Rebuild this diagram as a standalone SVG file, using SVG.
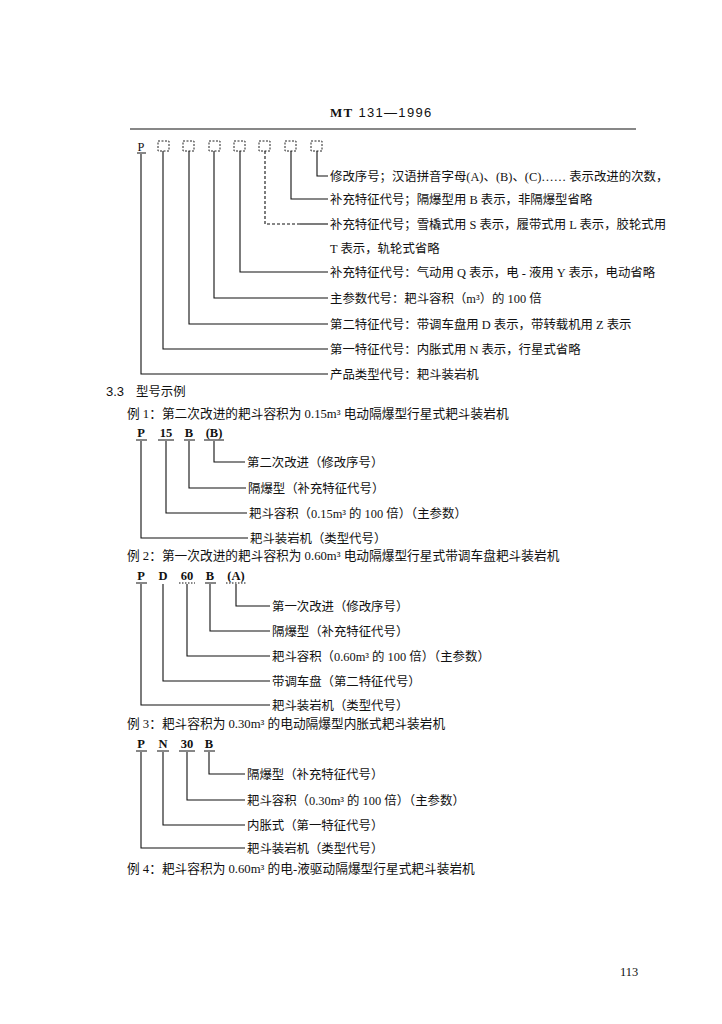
<svg xmlns="http://www.w3.org/2000/svg" width="722" height="1024" viewBox="0 0 722 1024">
<style>
.t{font-family:"Liberation Serif","Noto Sans CJK SC",serif;font-size:12.4px;fill:#111}
.e{font-family:"Liberation Serif","Noto Sans CJK SC",serif;font-size:12.7px;fill:#111}
.h{font-family:"Liberation Sans","Noto Sans CJK SC",sans-serif;font-size:13px;fill:#111}
.c{font-family:"Liberation Serif",serif;font-size:12.5px;fill:#111;text-anchor:middle;font-weight:bold}
.ln{stroke:#111;stroke-width:1.1;fill:none}
.dl{stroke:#111;stroke-width:1.1;fill:none;stroke-dasharray:3,2}
.bx{stroke:#222;stroke-width:1;fill:none;stroke-dasharray:2,1.5}
.ul{stroke:#111;stroke-width:1;fill:none}
.du{stroke:#111;stroke-width:1;fill:none;stroke-dasharray:1.5,1.5}
</style>
<rect width="722" height="1024" fill="#fff"/>
<g id="header">
<text class="h" x="330" y="117" font-size="14" letter-spacing="1.3"><tspan font-weight="bold" font-family="Liberation Serif">MT</tspan> 131—1996</text>
<line class="ln" x1="130" y1="129" x2="636" y2="129"/>
</g>
<g id="code-template">
<text class="t" x="141" y="151" text-anchor="middle">P</text>
<line class="ul" x1="137" y1="153" x2="146" y2="153"/>
<rect class="bx" x="158" y="141" width="11" height="10"/>
<rect class="bx" x="183" y="141" width="11" height="10"/>
<rect class="bx" x="209" y="141" width="11" height="10"/>
<rect class="bx" x="234" y="141" width="11" height="10"/>
<rect class="bx" x="259" y="141" width="11" height="10"/>
<rect class="bx" x="285" y="141" width="11" height="10"/>
<rect class="bx" x="311" y="141" width="11" height="10"/>
</g>
<g id="template-labels">
<text class="t" x="330" y="180.5">修改序号；汉语拼音字母(A)、(B)、(C)…… 表示改进的次数，</text>
<text class="t" x="330" y="203.5">补充特征代号；隔爆型用 B 表示，非隔爆型省略</text>
<text class="t" x="330" y="228.5">补充特征代号；雪橇式用 S 表示，履带式用 L 表示，胶轮式用</text>
<text class="t" x="330" y="252.5">T 表示，轨轮式省略</text>
<text class="t" x="330" y="276.5">补充特征代号：气动用 Q 表示，电 - 液用 Y 表示，电动省略</text>
<text class="t" x="330" y="302.5">主参数代号：耙斗容积（m³）的 100 倍</text>
<text class="t" x="330" y="328.5">第二特征代号：带调车盘用 D 表示，带转载机用 Z 表示</text>
<text class="t" x="330" y="353.5">第一特征代号：内胀式用 N 表示，行星式省略</text>
<text class="t" x="330" y="378.5">产品类型代号：耙斗装岩机</text>
</g>
<g id="section">
<text class="h" x="106" y="396" font-size="12.5">3.3</text>
<text class="t" x="136" y="396">型号示例</text>
</g>
<g id="example1">
<text class="e" x="127" y="418">例 1：第二次改进的耙斗容积为 0.15m³ 电动隔爆型行星式耙斗装岩机</text>
<text class="c" x="141" y="437">P</text>
<text class="c" x="166" y="437">15</text>
<text class="c" x="189" y="437">B</text>
<text class="c" x="214" y="437">(B)</text>
<line class="ul" x1="136" y1="440" x2="147" y2="440"/>
<line class="ul" x1="158" y1="440" x2="174" y2="440"/>
<line class="ul" x1="184" y1="440" x2="195" y2="440"/>
<line class="ul" x1="204" y1="440" x2="224" y2="440"/>
<text class="t" x="247" y="466.5">第二次改进（修改序号）</text>
<text class="t" x="248" y="492.5">隔爆型（补充特征代号）</text>
<text class="t" x="249" y="517.5">耙斗容积（0.15m³ 的 100 倍）（主参数）</text>
<text class="t" x="250" y="542.5">耙斗装岩机（类型代号）</text>
</g>
<g id="example2">
<text class="e" x="127" y="560">例 2：第一次改进的耙斗容积为 0.60m³ 电动隔爆型行星式带调车盘耙斗装岩机</text>
<text class="c" x="141" y="580">P</text>
<text class="c" x="163" y="580">D</text>
<text class="c" x="187" y="580">60</text>
<text class="c" x="210" y="580">B</text>
<text class="c" x="236" y="580">(A)</text>
<line class="ul" x1="136" y1="583" x2="147" y2="583"/>
<line class="du" x1="179" y1="583" x2="195" y2="583"/>
<line class="ul" x1="205" y1="583" x2="216" y2="583"/>
<line class="du" x1="226" y1="583" x2="246" y2="583"/>
<text class="t" x="272" y="610.5">第一次改进（修改序号）</text>
<text class="t" x="272" y="635.5">隔爆型（补充特征代号）</text>
<text class="t" x="272" y="660.5">耙斗容积（0.60m³ 的 100 倍）（主参数）</text>
<text class="t" x="272" y="685.5">带调车盘（第二特征代号）</text>
<text class="t" x="272" y="709.5">耙斗装岩机（类型代号）</text>
</g>
<g id="example3">
<text class="e" x="127" y="728">例 3：耙斗容积为 0.30m³ 的电动隔爆型内胀式耙斗装岩机</text>
<text class="c" x="141" y="748">P</text>
<text class="c" x="163" y="748">N</text>
<text class="c" x="187" y="748">30</text>
<text class="c" x="209" y="748">B</text>
<line class="ul" x1="136" y1="751" x2="147" y2="751"/>
<line class="ul" x1="157" y1="751" x2="169" y2="751"/>
<line class="ul" x1="179" y1="751" x2="195" y2="751"/>
<line class="ul" x1="204" y1="751" x2="215" y2="751"/>
<text class="t" x="247" y="778.5">隔爆型（补充特征代号）</text>
<text class="t" x="247" y="804.5">耙斗容积（0.30m³ 的 100 倍）（主参数）</text>
<text class="t" x="247" y="829.5">内胀式（第一特征代号）</text>
<text class="t" x="247" y="852.5">耙斗装岩机（类型代号）</text>
</g>
<g id="example4">
<text class="e" x="127" y="873">例 4：耙斗容积为 0.60m³ 的电-液驱动隔爆型行星式耙斗装岩机</text>
</g>
<g id="page-number">
<text class="t" x="620" y="976" font-size="11">113</text>
</g>
<g id="connectors">
<polyline class="ln" points="317,151 317,176 328,176"/>
<polyline class="ln" points="291,151 291,199 328,199"/>
<polyline class="dl" points="265,151 265,224 300,224"/>
<line class="ln" x1="300" y1="224" x2="328" y2="224"/>
<polyline class="ln" points="240,151 240,272 328,272"/>
<polyline class="ln" points="214,151 214,298 328,298"/>
<polyline class="ln" points="189,151 189,324 328,324"/>
<polyline class="ln" points="163,151 163,349 328,349"/>
<polyline class="ln" points="141,154 141,374 328,374"/>
<polyline class="ln" points="214,441 214,462 245,462"/>
<polyline class="ln" points="189,441 189,488 246,488"/>
<polyline class="ln" points="166,441 166,513 247,513"/>
<polyline class="ln" points="141,441 141,538 248,538"/>
<polyline class="ln" points="236,584 236,606 270,606"/>
<polyline class="ln" points="210,584 210,631 270,631"/>
<polyline class="ln" points="187,584 187,656 270,656"/>
<polyline class="ln" points="163,584 163,681 270,681"/>
<polyline class="ln" points="141,584 141,705 270,705"/>
<polyline class="ln" points="209,752 209,774 245,774"/>
<polyline class="ln" points="187,752 187,800 245,800"/>
<polyline class="ln" points="163,752 163,825 245,825"/>
<polyline class="ln" points="141,752 141,848 245,848"/>
</g>
</svg>
